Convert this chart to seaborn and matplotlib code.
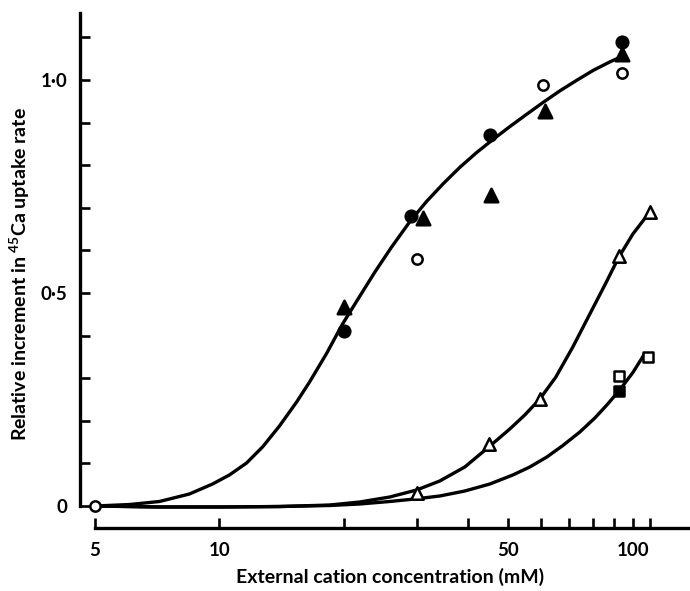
import matplotlib
matplotlib.use("Agg")
import matplotlib.pyplot as plt
import pandas as pd
import seaborn as sns

# ---- measured points: external cation concentration (mM) vs relative increment ----
filled_circle_x = [20, 29, 45.1, 93.9]
filled_circle_y = [0.41, 0.68, 0.871, 1.088]

filled_triangle_x = [20, 31, 45.4, 61.2, 93.9]
filled_triangle_y = [0.467, 0.675, 0.730, 0.926, 1.060]

open_circle_x = [5, 30, 60.5, 93.9]
open_circle_y = [0.0, 0.58, 0.988, 1.016]

open_triangle_x = [30, 44.9, 59.6, 92.3, 109.9]
open_triangle_y = [0.03, 0.145, 0.250, 0.587, 0.691]

open_square_x = [92.3, 108.9]
open_square_y = [0.306, 0.350]

filled_square_x = [92.3]
filled_square_y = [0.271]

# ---- fitted curves drawn through the points ----
curve1_x = [5.0, 6.06, 7.16, 8.46, 9.62, 10.57, 11.63, 12.71, 13.97, 15.37,
            16.52, 18.16, 19.85, 21.83, 23.73, 26.04, 28.84, 31.66, 34.73,
            38.12, 41.83, 45.89, 50.38, 55.28, 60.65, 66.56, 73.05, 80.14,
            87.97, 93.0]
curve1_y = [0.0, 0.0035, 0.0106, 0.0282, 0.0516, 0.0728, 0.1009, 0.1385,
            0.1878, 0.2441, 0.2911, 0.358, 0.4272, 0.4918, 0.5481, 0.6068,
            0.6667, 0.7143, 0.7559, 0.7946, 0.8291, 0.8603, 0.8904, 0.919,
            0.9472, 0.9742, 0.9988, 1.0223, 1.0423, 1.0528]

curve2_x = [5.0, 7.16, 10.0, 13.97, 18.47, 21.83, 25.80, 29.99, 34.10, 39.20,
            44.81, 50.38, 54.76, 59.55, 65.11, 71.56, 78.68, 86.03, 92.49,
            100.0, 109.9]
curve2_y = [0.0, -0.0023, -0.0023, -0.0012, 0.0023, 0.0094, 0.0211, 0.0376,
            0.0587, 0.0915, 0.1385, 0.1808, 0.2136, 0.2512, 0.3028, 0.3732,
            0.4507, 0.5235, 0.5845, 0.6385, 0.6901]

curve3_x = [5.0, 7.16, 10.0, 13.97, 18.47, 21.83, 25.80, 29.66, 34.10, 39.20,
            45.07, 51.22, 56.30, 61.92, 67.69, 74.41, 80.91, 86.50, 92.49,
            100.0, 106.3]
curve3_y = [0.0, -0.0023, -0.0023, -0.0012, 0.0012, 0.0047, 0.0106, 0.0164,
            0.0235, 0.0352, 0.0516, 0.0728, 0.0915, 0.115, 0.142, 0.1737,
            0.2066, 0.2371, 0.27, 0.3134, 0.3545]

x_major_ticks = [5, 10, 50, 100]
x_major_labels = ["5", "10", "50", "100"]
x_minor_ticks = [20, 30, 40, 60, 70, 80, 90, 110]
y_major_ticks = [0, 0.5, 1.0]
y_major_labels = ["0", "0·5", "1·0"]
y_minor_ticks = [0.1, 0.2, 0.3, 0.4, 0.6, 0.7, 0.8, 0.9, 1.1]

x_label = "External cation concentration (mM)"
y_label = r"Relative increment in $^{45}$Ca uptake rate"

sns.set_theme(style="ticks")
plt.rcParams["font.family"] = ["Lato", "DejaVu Sans"]
plt.rcParams["font.weight"] = "bold"
plt.rcParams["mathtext.fontset"] = "custom"
plt.rcParams["mathtext.rm"] = "Lato:bold"
plt.rcParams["mathtext.it"] = "Lato:bold"
plt.rcParams["mathtext.bf"] = "Lato:bold"

W, H = 690, 591
fig = plt.figure(figsize=(W / 100, H / 100), dpi=100)
fig.patch.set_facecolor("white")
ax = fig.add_axes([80 / W, 63 / H, 608 / W, 515 / H])
ax.set_facecolor("white")
ax.set_xscale("log")
ax.set_xlim(4.60, 135.9)
ax.set_ylim(-0.0516, 1.157)

lw = 2.4
for cx, cy in [(curve1_x, curve1_y), (curve2_x, curve2_y), (curve3_x, curve3_y)]:
    df = pd.DataFrame({"conc": cx, "rate": cy})
    sns.lineplot(data=df, x="conc", y="rate", sort=False, estimator=None,
                 color="black", linewidth=lw, ax=ax, zorder=2,
                 solid_joinstyle="round", solid_capstyle="round")

series = [
    (filled_circle_x, filled_circle_y, "o", 70, "black"),
    (filled_triangle_x, filled_triangle_y, "^", 95, "black"),
    (filled_square_x, filled_square_y, "s", 60, "black"),
    (open_circle_x, open_circle_y, "o", 55, "white"),
    (open_triangle_x, open_triangle_y, "^", 80, "white"),
    (open_square_x, open_square_y, "s", 50, "white"),
]
for sx, sy, mk, size, face in series:
    sns.scatterplot(x=sx, y=sy, marker=mk, s=size, color=face,
                    edgecolor="black", linewidth=1.8, ax=ax, zorder=3,
                    clip_on=False)

ax.set_xticks(x_major_ticks)
ax.set_xticklabels(x_major_labels)
ax.set_xticks(x_minor_ticks, minor=True)
ax.set_xticklabels([], minor=True)
ax.set_yticks(y_major_ticks)
ax.set_yticklabels(y_major_labels)
ax.set_yticks(y_minor_ticks, minor=True)

for which in ("major", "minor"):
    ax.tick_params(axis="x", which=which, direction="in", length=7.5, width=1.9,
                   color="black", pad=10)
    ax.tick_params(axis="y", which=which, direction="in", length=7, width=1.9,
                   color="black", pad=9)
ax.tick_params(axis="both", which="major", labelsize=13.5, labelcolor="black")
for lab in ax.get_xticklabels() + ax.get_yticklabels():
    lab.set_fontweight("bold")

for side in ("top", "right"):
    ax.spines[side].set_visible(False)
for side in ("left", "bottom"):
    ax.spines[side].set_linewidth(2.4)
    ax.spines[side].set_color("black")
ax.spines["left"].set_bounds(0, 1.157)
ax.spines["bottom"].set_bounds(5, 135.9)

ax.set_xlabel("")
ax.set_ylabel("")
fig.text(390 / W, 1 - 577 / H, x_label, ha="center", va="center",
         fontsize=14, fontweight="bold", color="black")
fig.text(20 / W, 1 - 274 / H, y_label, ha="center", va="center", rotation=90,
         fontsize=14, fontweight="bold", color="black")

fig.savefig("out.png", dpi=100, facecolor="white")
